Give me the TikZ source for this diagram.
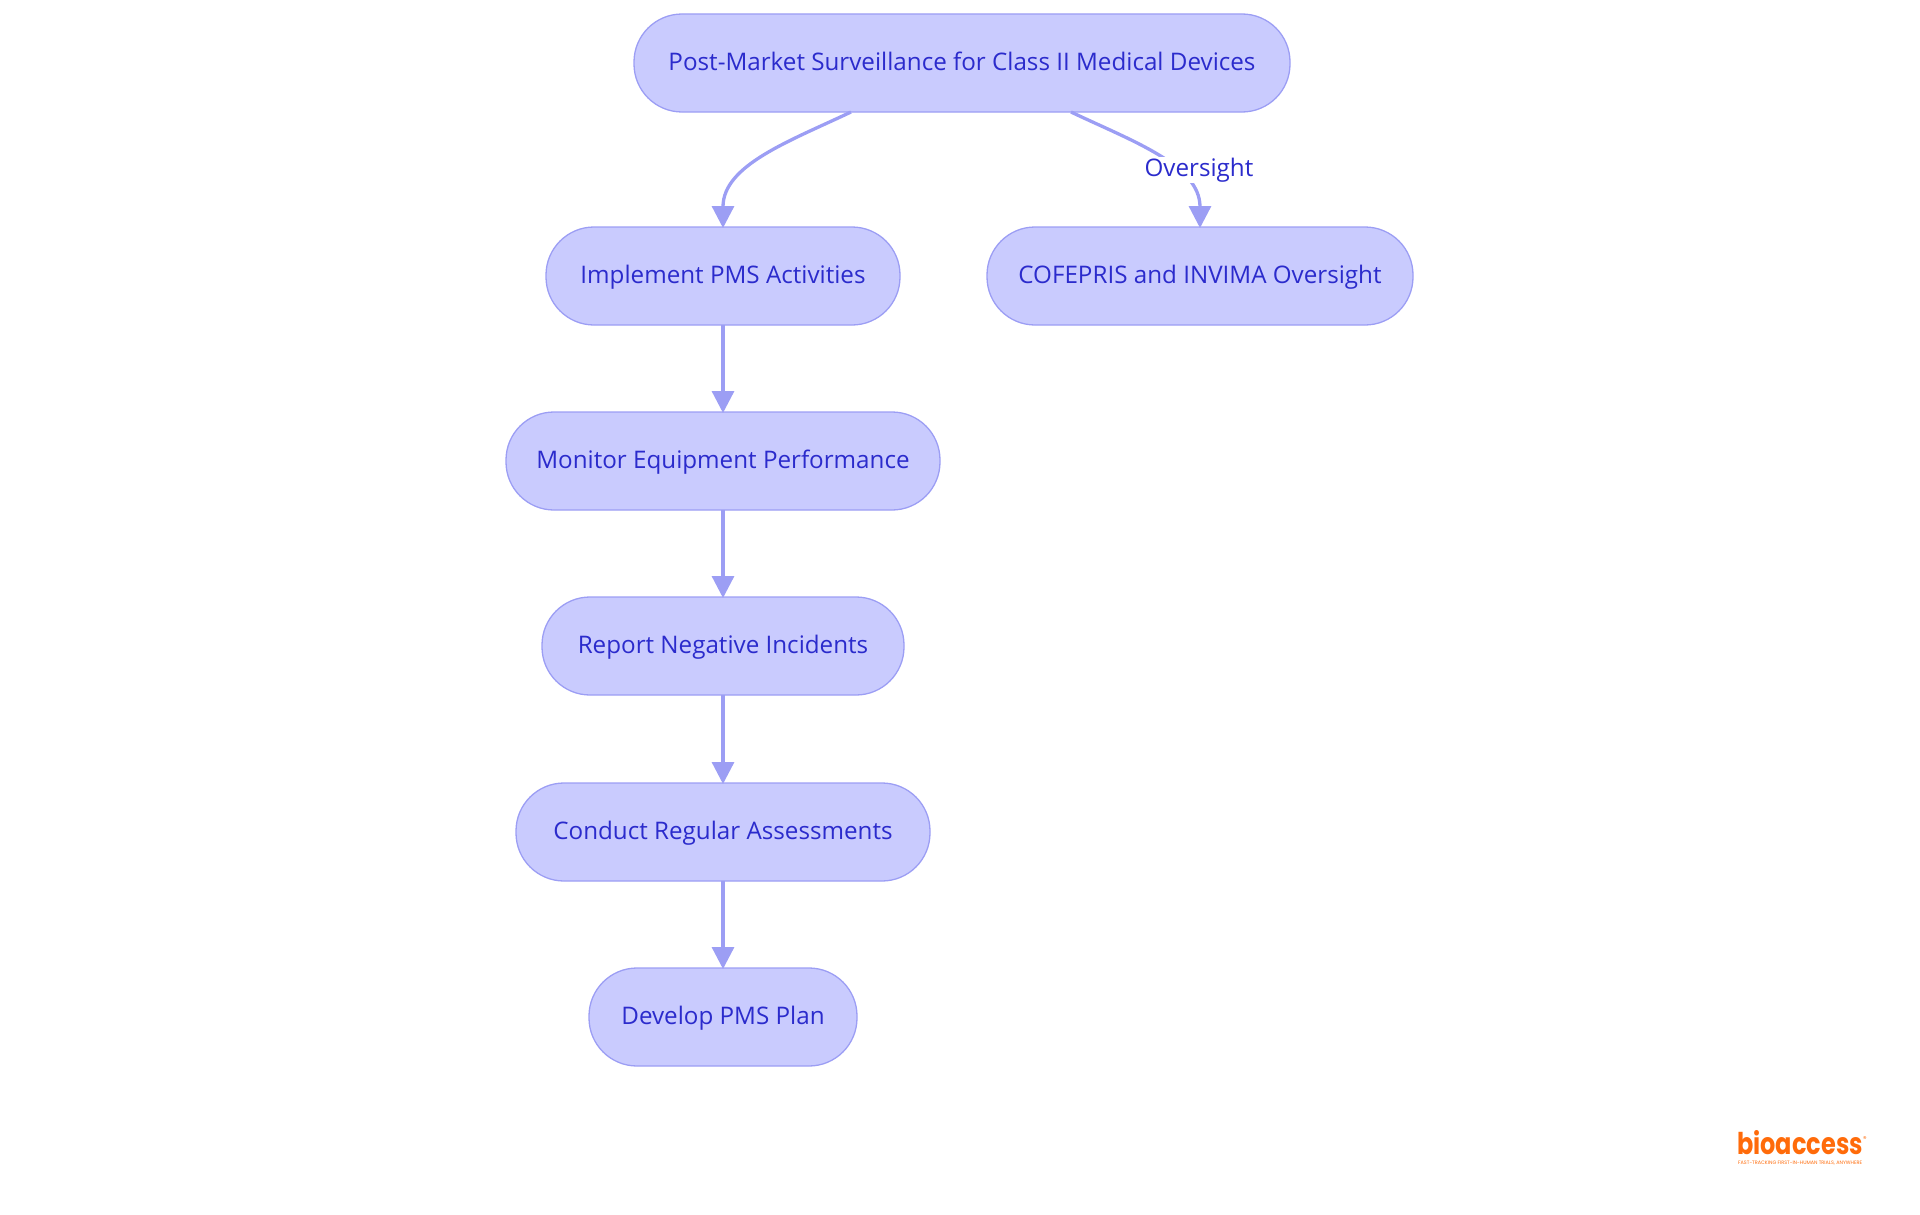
\documentclass[tikz,border=0pt]{standalone}
\usepackage{fontspec}
\setmainfont{Open Sans}
\newfontfamily\logofont{Poppins}
\usetikzlibrary{arrows.meta,positioning}
\definecolor{nodefill}{HTML}{C9CBFE}
\definecolor{nodeline}{HTML}{9C9EF4}
\definecolor{nodetext}{HTML}{2B2BCC}
\definecolor{logoorange}{HTML}{FF6B0A}
\tikzset{
  x=1pt,y=-1pt,
  flownode/.style={draw=nodeline,fill=nodefill,line width=1.3pt,rounded corners=48pt,text=nodetext,
    font=\fontsize{24.2}{28}\selectfont,inner sep=0pt,outer sep=0pt,minimum height=98pt,text height=17pt,text depth=2.5pt,anchor=center},
  flowedge/.style={draw=nodeline,line width=3.3pt,shorten >=-1pt,-{Triangle[length=22pt,width=22pt,fill=nodeline]}},
  edgelabel/.style={fill=white,text=nodetext,font=\fontsize{24.2}{28}\selectfont,inner xsep=1pt,inner ysep=1pt}
}
\begin{document}
\begin{tikzpicture}
\useasboundingbox (0,0) rectangle (1920,1215);
\node[flownode,minimum width=656pt] (top) at (962,63) {Post-Market Surveillance for Class II Medical Devices};
\node[flownode,minimum width=354pt] (impl) at (723,276) {Implement PMS Activities};
\node[flownode,minimum width=426pt] (cof) at (1200,276) {COFEPRIS and INVIMA Oversight};
\node[flownode,minimum width=434pt] (mon) at (723,461) {Monitor Equipment Performance};
\node[flownode,minimum width=362pt] (rep) at (723,646) {Report Negative Incidents};
\node[flownode,minimum width=414pt] (con) at (723,832) {Conduct Regular Assessments};
\node[flownode,minimum width=268pt] (dev) at (723,1017) {Develop PMS Plan};
\coordinate (topL) at (851,112);
\coordinate (topR) at (1071,112);
\draw[flowedge] (topL) .. controls (790,141) and (723,165) .. (impl.north);
\draw[flowedge] (topR) .. controls (1132,141) and (1200,165) .. (cof.north);
\draw[flowedge] (impl) -- (mon);
\draw[flowedge] (mon) -- (rep);
\draw[flowedge] (rep) -- (con);
\draw[flowedge] (con) -- (dev);
\node[edgelabel] (lab) at (1199,170) {Oversight};
\node[text=logoorange,font=\logofont\bfseries\fontsize{30}{32}\selectfont,inner sep=0pt,anchor=base west] (logo) at (1737,1154) {\scalebox{0.8}[1]{bioaccess}};
\node[text=logoorange,font=\logofont\fontsize{7}{8}\selectfont,inner sep=0pt,anchor=center] (reg) at (1865,1139) {®};
\node[text=logoorange,font=\logofont\fontsize{4.9}{5}\selectfont,inner sep=0pt,anchor=west] (tag) at (1738,1163.5) {FAST-TRACKING FIRST-IN-HUMAN TRIALS, ANYWHERE};
\end{tikzpicture}
\end{document}
